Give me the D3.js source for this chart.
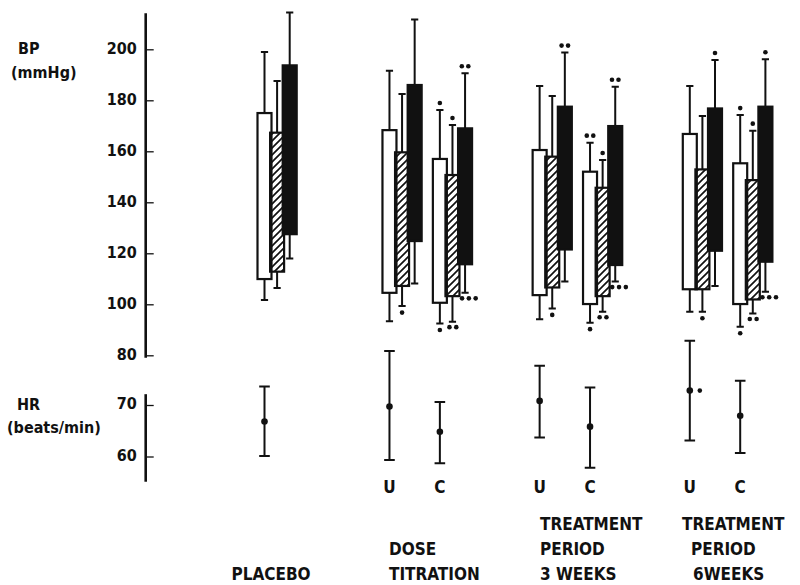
<!DOCTYPE html>
<html>
<head>
<meta charset="utf-8">
<script src="https://cdn.jsdelivr.net/npm/d3@7"></script>
<style>
  body { margin: 0; background: #fff; }
  text { font-family: "DejaVu Sans Condensed", "DejaVu Sans", sans-serif; font-weight: bold; fill: #111; }
</style>
</head>
<body>
<div id="my_dataviz"></div>
<script>
// periods and arms (U / C) along the bottom
var periods = ["PLACEBO", "DOSE TITRATION", "TREATMENT PERIOD 3 WEEKS", "TREATMENT PERIOD 6WEEKS"];
var periodLines = [["PLACEBO"], ["DOSE", "TITRATION"], ["TREATMENT", "PERIOD", "3 WEEKS"], ["TREATMENT", "PERIOD", "6WEEKS"]];
var condPeriod = [0, 1, 1, 2, 2, 3, 3];
var condArm = ["", "U", "C", "U", "C", "U", "C"];
var barTypes = ["open", "hatched", "solid"];

// BP (mmHg): bar top, bar bottom, upper whisker end, lower whisker end  [open, hatched, solid]
var bpTop = [
  [175.0, 167.3, 193.7],
  [168.3, 159.6, 186.0],
  [157.0, 150.7, 169.0],
  [160.5, 157.9, 177.5],
  [152.0, 145.7, 169.9],
  [166.8, 152.9, 176.8],
  [155.3, 148.7, 177.5]
];
var bpBottom = [
  [109.9, 112.8, 127.5],
  [104.5, 107.2, 124.8],
  [100.6, 103.2, 115.7],
  [103.6, 106.6, 121.5],
  [100.1, 103.2, 115.4],
  [105.9, 105.9, 121.0],
  [100.1, 101.9, 116.7]
];
var bpTopErr = [
  [198.9, 187.6, 214.4],
  [191.6, 182.5, 211.7],
  [176.2, 170.3, 190.6],
  [185.6, 181.7, 198.7],
  [163.4, 156.6, 185.3],
  [185.6, 173.8, 195.8],
  [174.2, 168.1, 196.1]
];
var bpBottomErr = [
  [101.7, 106.4, 118.0],
  [93.4, 99.3, 108.2],
  [92.5, 93.2, 104.5],
  [94.1, 98.4, 108.9],
  [92.8, 97.1, 108.9],
  [97.1, 97.1, 107.2],
  [91.2, 96.4, 104.9]
];
// number of significance marks above / below each bar
var sigTop = [
  [0, 0, 0],
  [0, 0, 0],
  [1, 1, 2],
  [0, 0, 2],
  [2, 1, 2],
  [0, 0, 1],
  [1, 1, 1]
];
var sigBottom = [
  [0, 0, 0],
  [0, 1, 0],
  [1, 2, 3],
  [0, 1, 0],
  [1, 2, 3],
  [0, 1, 0],
  [1, 2, 3]
];

// HR (beats/min): mean, upper and lower whisker end, significance marks
var hrMean = [66.8, 69.7, 64.8, 70.8, 65.8, 72.8, 67.9];
var hrHigh = [73.6, 80.5, 70.6, 77.6, 73.4, 82.5, 74.7];
var hrLow  = [60.1, 59.3, 58.7, 63.7, 57.8, 63.1, 60.7];
var hrSig  = [0, 0, 0, 0, 0, 1, 0];

var bpTicks = [80, 100, 120, 140, 160, 180, 200];
var hrTicks = [60, 70];

var width = 800, height = 585;

var svg = d3.select("#my_dataviz")
  .append("svg")
    .attr("width", width)
    .attr("height", height)
    .style("background", "#fff");

// hatch pattern
svg.append("defs").append("pattern")
    .attr("id", "hatch")
    .attr("patternUnits", "userSpaceOnUse")
    .attr("width", 7)
    .attr("height", 7)
  .append("path")
    .attr("d", "M-1,1 l2,-2 M0,7 l7,-7 M6,8 l2,-2")
    .attr("stroke", "#111")
    .attr("stroke-width", 1.7);

// scales
var xPeriod = d3.scalePoint().domain(periods).range([264.5, 715]);
var xArm = d3.scalePoint().domain(["U", "C"]).range([-25.2, 25.2]);
var xBar = d3.scalePoint().domain(barTypes).range([0, 25.2]);
var yBP = d3.scaleLinear().domain([80, 200]).range([355.3, 49.3]);
var yHR = d3.scaleLinear().domain([60, 70]).range([456.5, 405]);

function armX(i) {
  var p = xPeriod(periods[condPeriod[i]]);
  return condArm[i] === "" ? p : p + xArm(condArm[i]);
}

var axisX = 145.7;

// BP axis
var bpAxis = svg.append("g")
  .attr("transform", "translate(" + axisX + ",0)")
  .call(d3.axisLeft(yBP).tickValues(bpTicks).tickSizeInner(-8).tickSizeOuter(0).tickPadding(9));
bpAxis.select(".domain").remove();
svg.append("line")
  .attr("x1", axisX).attr("x2", axisX)
  .attr("y1", yBP(79)).attr("y2", yBP(214.1))
  .attr("stroke", "#111").attr("stroke-width", 2.6);

// HR axis
var hrAxis = svg.append("g")
  .attr("transform", "translate(" + axisX + ",0)")
  .call(d3.axisLeft(yHR).tickValues(hrTicks).tickSizeInner(-8).tickSizeOuter(0).tickPadding(9));
hrAxis.select(".domain").remove();
svg.append("line")
  .attr("x1", axisX).attr("x2", axisX)
  .attr("y1", yHR(55.1)).attr("y2", yHR(72.1))
  .attr("stroke", "#111").attr("stroke-width", 2.6);

svg.selectAll(".tick line").attr("stroke", "#111").attr("stroke-width", 1.3);
svg.selectAll(".tick text")
  .attr("dy", "0.24em")
  .style("font-size", "16px")
  .style("font-family", "\"DejaVu Sans Condensed\", \"DejaVu Sans\", sans-serif")
  .style("font-weight", "bold")
  .attr("fill", "#111");

// axis titles
var titles = [
  {t: "BP", x: 18, y: 54},
  {t: "(mmHg)", x: 11, y: 78},
  {t: "HR", x: 17, y: 410},
  {t: "(beats/min)", x: 7, y: 433}
];
svg.selectAll(".atitle")
  .data(titles)
  .enter()
  .append("text")
    .attr("x", function (d) { return d.x; })
    .attr("y", function (d) { return d.y; })
    .style("font-size", "16px")
    .text(function (d) { return d.t; });

// flatten bars
var bars = [];
condPeriod.forEach(function (p, i) {
  barTypes.forEach(function (b, j) {
    bars.push({
      cond: i, type: b,
      cx: armX(i) + xBar(b),
      top: bpTop[i][j], bottom: bpBottom[i][j],
      eTop: bpTopErr[i][j], eBot: bpBottomErr[i][j],
      sTop: sigTop[i][j], sBot: sigBottom[i][j]
    });
  });
});

var barW = 14, capW = 3.6;

var barG = svg.append("g");
bars.forEach(function (d) {
  var g = barG.append("g");
  // whiskers
  g.append("path")
    .attr("d", "M" + d.cx + "," + yBP(d.top) + "V" + yBP(d.eTop) +
               "M" + (d.cx - capW) + "," + yBP(d.eTop) + "H" + (d.cx + capW) +
               "M" + d.cx + "," + yBP(d.bottom) + "V" + yBP(d.eBot) +
               "M" + (d.cx - capW) + "," + yBP(d.eBot) + "H" + (d.cx + capW))
    .attr("stroke", "#111")
    .attr("stroke-width", 2)
    .attr("fill", "none");
  // bar
  g.append("rect")
    .attr("x", d.cx - barW / 2)
    .attr("y", yBP(d.top))
    .attr("width", barW)
    .attr("height", yBP(d.bottom) - yBP(d.top))
    .attr("fill", d.type === "open" ? "#fff" : d.type === "hatched" ? "url(#hatch)" : "#111")
    .attr("stroke", "#111")
    .attr("stroke-width", 2.2);
  // significance marks
  d3.range(d.sTop).forEach(function (k) {
    g.append("circle")
      .attr("cx", d.cx + (k - (d.sTop - 1) / 2) * 6.5)
      .attr("cy", yBP(d.eTop) - 7)
      .attr("r", 2.3)
      .attr("fill", "#111");
  });
  d3.range(d.sBot).forEach(function (k) {
    g.append("circle")
      .attr("cx", d.sBot === 1 ? d.cx : d.cx - 3 + k * 6.8)
      .attr("cy", yBP(d.eBot) + (d.sBot === 1 ? 6.5 : 5.5))
      .attr("r", 2.3)
      .attr("fill", "#111");
  });
});

// HR points
var hrG = svg.append("g");
hrMean.forEach(function (m, i) {
  var x = armX(i);
  hrG.append("path")
    .attr("d", "M" + x + "," + yHR(hrHigh[i]) + "V" + yHR(hrLow[i]) +
               "M" + (x - 5.3) + "," + yHR(hrHigh[i]) + "H" + (x + 5.3) +
               "M" + (x - 5.3) + "," + yHR(hrLow[i]) + "H" + (x + 5.3))
    .attr("stroke", "#111")
    .attr("stroke-width", 2)
    .attr("fill", "none");
  hrG.append("circle")
    .attr("cx", x).attr("cy", yHR(m)).attr("r", 3.3).attr("fill", "#111");
  d3.range(hrSig[i]).forEach(function (k) {
    hrG.append("circle")
      .attr("cx", x + 10 + k * 6.5).attr("cy", yHR(m)).attr("r", 2.3).attr("fill", "#111");
  });
});

// U / C labels
svg.selectAll(".arm")
  .data(condArm.map(function (a, i) { return {a: a, i: i}; }).filter(function (d) { return d.a !== ""; }))
  .enter()
  .append("text")
    .attr("x", function (d) { return armX(d.i); })
    .attr("y", 493)
    .attr("text-anchor", "middle")
    .style("font-size", "17px")
    .text(function (d) { return d.a; });

// period labels, bottom aligned
var labelX = [231.5, 389, 540, 682];
var lineDx = [[0], [0, 0], [0, 0, 0], [0, 9, 11]];
periodLines.forEach(function (lines, p) {
  lines.forEach(function (t, k) {
    svg.append("text")
      .attr("x", labelX[p] + lineDx[p][k])
      .attr("y", 580 - (lines.length - 1 - k) * 25)
      .style("font-size", "17px")
      .text(t);
  });
});
</script>
</body>
</html>
